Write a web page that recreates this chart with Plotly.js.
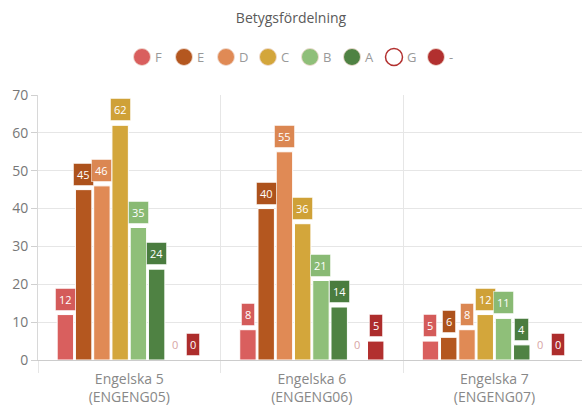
<!DOCTYPE html>
<html><head><meta charset="utf-8">
<script src="https://cdn.plot.ly/plotly-3.0.1.min.js"></script>
<style>html,body{margin:0;padding:0;background:#fff;}</style>
</head><body><div id="chart" style="width:582px;height:407px;"></div>
<script>
var categories = ["Engelska 5<br>(ENGENG05)", "Engelska 6<br>(ENGENG06)", "Engelska 7<br>(ENGENG07)"];
var seriesNames = ["F", "E", "D", "C", "B", "A", "G", "-"];
var seriesColors = ["#d95f5e", "#b4571f", "#e08a55", "#d3a63b", "#8fbf79", "#4f8243", "#ffffff", "#b2302f"];
var labelColors = ["#d45b5a", "#ad521c", "#db8752", "#cfa137", "#89ba74", "#4a7c3f", "#d8a5a5", "#ad2d2c"];
var valsF = [12, 8, 5];
var valsE = [45, 40, 6];
var valsD = [46, 55, 8];
var valsC = [62, 36, 12];
var valsB = [35, 21, 11];
var valsA = [24, 14, 4];
var valsG = [0, 0, 0];
var valsDash = [0, 5, 0];
var allVals = [valsF, valsE, valsD, valsC, valsB, valsA, valsG, valsDash];

var W = 582, H = 407;
var M = {l: 38, r: 0, t: 95, b: 47};
var plotW = W - M.l - M.r, plotH = H - M.t - M.b;

var bargap = 0.2, bargroupgap = 0.1;
var nS = seriesNames.length;
var slot = (1 - bargap) / nS;

var traces = [];
var annotations = [];
var shapes = [];
for (var s = 0; s < nS; s++) {
  traces.push({
    type: 'bar', x: categories, y: allVals[s], name: seriesNames[s],
    showlegend: false,
    marker: {color: seriesColors[s], line: {color: '#ffffff', width: 1}},
    hoverinfo: 'skip'
  });
  for (var c = 0; c < categories.length; c++) {
    var xpos = c - 0.5 + bargap / 2 + (s + 0.5) * slot;
    var isG = (s === 6);
    annotations.push({
      x: xpos, y: allVals[s][c], xref: 'x', yref: 'y',
      text: String(allVals[s][c]), showarrow: false,
      yanchor: 'bottom', xanchor: 'center', yshift: 4,
      font: {family: 'Open Sans', size: 11, color: isG ? '#d8a5a5' : '#ffffff'},
      bgcolor: isG ? 'rgba(0,0,0,0)' : labelColors[s],
      bordercolor: isG ? 'rgba(0,0,0,0)' : 'rgba(255,255,255,0.5)', borderwidth: 1, borderpad: 3
    });
  }
}

// custom legend (circle symbols) placed in pixel layout
var legendStartX = 142, legendStep = 42, legendY = 57, legendR = 8.5;
for (var s = 0; s < nS; s++) {
  var cx = legendStartX + s * legendStep;
  var px = (cx - M.l) / plotW;
  var py = (H - M.b - legendY) / plotH;
  shapes.push({
    type: 'circle', xref: 'paper', yref: 'paper', xsizemode: 'pixel', ysizemode: 'pixel',
    xanchor: px, yanchor: py, x0: -legendR, x1: legendR, y0: -legendR, y1: legendR,
    fillcolor: seriesColors[s],
    line: {color: s === 6 ? '#b2302f' : 'rgba(240,220,210,0.9)', width: s === 6 ? 1.5 : 1}
  });
  annotations.push({
    x: (cx + legendR + 2 - M.l) / plotW, y: py, xref: 'paper', yref: 'paper',
    text: seriesNames[s], showarrow: false, xanchor: 'left', yanchor: 'middle',
    font: {family: 'Open Sans', size: 13, color: '#999999'}
  });
}

var layout = {
  width: W, height: H,
  margin: M,
  paper_bgcolor: '#ffffff', plot_bgcolor: '#ffffff',
  font: {family: 'Open Sans', color: '#666666'},
  title: {text: 'Betygsfördelning', x: 0.5, xref: 'container', y: 0.955, yref: 'container',
    yanchor: 'middle', xanchor: 'center', font: {family: 'Open Sans', size: 14, color: '#5a5a5a'}},
  barmode: 'group', bargap: bargap, bargroupgap: bargroupgap,
  showlegend: false,
  xaxis: {type: 'category', range: [-0.5, 2.48], tickson: 'boundaries', ticks: 'outside',
    ticklen: 12, tickcolor: '#e6e6e6', showgrid: true, gridcolor: '#e6e6e6',
    showline: true, linecolor: '#cccccc', linewidth: 1, ticklabelstandoff: 6,
    tickfont: {family: 'Open Sans', size: 14, color: '#888888'}, fixedrange: true},
  yaxis: {range: [0, 70], dtick: 10, ticks: 'outside', ticklen: 6, tickcolor: '#d0d0d0',
    showgrid: true, gridcolor: '#e6e6e6', zeroline: false,
    showline: true, linecolor: '#d8d8d8',
    tickfont: {family: 'Open Sans', size: 14, color: '#777777'}, fixedrange: true},
  annotations: annotations,
  shapes: shapes
};
Plotly.newPlot('chart', traces, layout, {displayModeBar: false, staticPlot: true});
</script></body></html>
